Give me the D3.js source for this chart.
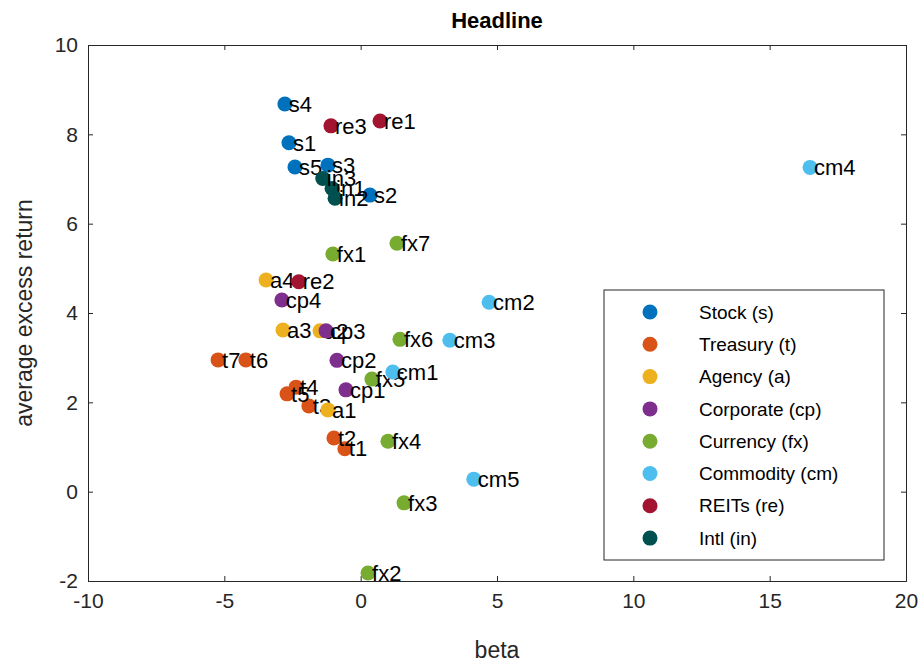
<!DOCTYPE html>
<html><head><meta charset="utf-8">
<script src="https://cdn.jsdelivr.net/npm/d3@7"></script>
<style>body{margin:0;background:#fff}text{font-family:"Liberation Sans",Arial,sans-serif}</style>
</head><body><svg id="c" width="924" height="664"></svg>
<script>
const groups = ["Stock (s)", "Treasury (t)", "Agency (a)", "Corporate (cp)", "Currency (fx)", "Commodity (cm)", "REITs (re)", "Intl (in)"];
const colors = ["#0072BD", "#D95319", "#EDB120", "#7E2F8E", "#77AC30", "#4DBEEE", "#A2142F", "#00504F"];
const labels = ["s1","s2","s3","s4","s5","t1","t2","t3","t4","t5","t6","t7","a1","a2","a3","a4","cp1","cp2","cp3","cp4",
  "fx1","fx2","fx3","fx4","fx5","fx6","fx7","cm1","cm2","cm3","cm4","cm5","re1","re2","re3","in1","in2","in3"];
const groupIdx = [0,0,0,0,0,1,1,1,1,1,1,1,2,2,2,2,3,3,3,3,4,4,4,4,4,4,4,5,5,5,5,5,6,6,6,7,7,7];
const betas = [-2.63,0.34,-1.20,-2.78,-2.41,-0.58,-0.98,-1.90,-2.37,-2.70,-4.21,-5.23,-1.20,-1.49,-2.85,-3.47,-0.54,-0.87,-1.27,-2.89,
  -1.02,0.27,1.59,1.00,0.41,1.44,1.33,1.18,4.71,3.27,16.48,4.15,0.71,-2.27,-1.09,-1.05,-0.94,-1.39];
const returns = [7.81,6.64,7.31,8.68,7.27,0.96,1.20,1.92,2.34,2.19,2.95,2.95,1.83,3.60,3.62,4.74,2.28,2.94,3.60,4.29,
  5.32,-1.82,-0.25,1.13,2.52,3.41,5.56,2.68,4.24,3.39,7.26,0.28,8.30,4.70,8.19,6.79,6.57,7.01];
const xTicks = [-10,-5,0,5,10,15,20];
const yTicks = [-2,0,2,4,6,8,10];

const svg = d3.select("#c");
const m = {l: 88, r: 906, t: 45, b: 581};
const x = d3.scaleLinear().domain([-10, 20]).range([m.l, m.r]);
const y = d3.scaleLinear().domain([-2, 10]).range([m.b, m.t]);
const fmt = d => String(d);

svg.append("g").attr("transform", `translate(0,${m.b})`)
  .call(d3.axisBottom(x).tickValues(xTicks).tickSize(-5).tickPadding(12).tickFormat(fmt));
svg.append("g").attr("transform", `translate(${m.l},0)`)
  .call(d3.axisLeft(y).tickValues(yTicks).tickSize(-5).tickPadding(10).tickFormat(fmt));
svg.append("g").attr("transform", `translate(0,${m.t})`)
  .call(d3.axisTop(x).tickValues(xTicks).tickSize(-5).tickFormat(""));
svg.append("g").attr("transform", `translate(${m.r},0)`)
  .call(d3.axisRight(y).tickValues(yTicks).tickSize(-5).tickFormat(""));
svg.selectAll(".domain,.tick line").attr("stroke", "#262626");
svg.selectAll(".tick text").attr("font-size", 21).attr("fill", "#262626").style("font-family", "Liberation Sans, Arial");

svg.append("text").attr("x", (m.l + m.r) / 2).attr("y", 28).attr("text-anchor", "middle")
  .attr("font-size", 22).attr("font-weight", "bold").text("Headline");
svg.append("text").attr("x", (m.l + m.r) / 2).attr("y", 658).attr("text-anchor", "middle")
  .attr("font-size", 23).attr("fill", "#262626").text("beta");
svg.append("text").attr("transform", `translate(32,${(m.t + m.b) / 2}) rotate(-90)`).attr("text-anchor", "middle")
  .attr("font-size", 23).attr("fill", "#262626").text("average excess return");

const pts = svg.append("g").selectAll("g").data(labels).join("g")
  .attr("transform", (d, i) => `translate(${x(betas[i])},${y(returns[i])})`);
pts.append("circle").attr("r", 7.5).attr("fill", (d, i) => colors[groupIdx[i]]);
pts.append("text").attr("x", 4).attr("dy", "0.35em").attr("font-size", 22).text(d => d);

// legend
const lg = svg.append("g").attr("transform", "translate(604,290)");
lg.append("rect").attr("width", 280).attr("height", 270).attr("fill", "#fff").attr("stroke", "#262626");
const li = lg.selectAll(".li").data(groups).join("g")
  .attr("transform", (d, i) => `translate(0,${22 + i * 32.3})`);
li.append("circle").attr("cx", 46).attr("r", 7.5).attr("fill", (d, i) => colors[i]);
li.append("text").attr("x", 95).attr("dy", "0.35em").attr("font-size", 19).text(d => d);
</script></body></html>
